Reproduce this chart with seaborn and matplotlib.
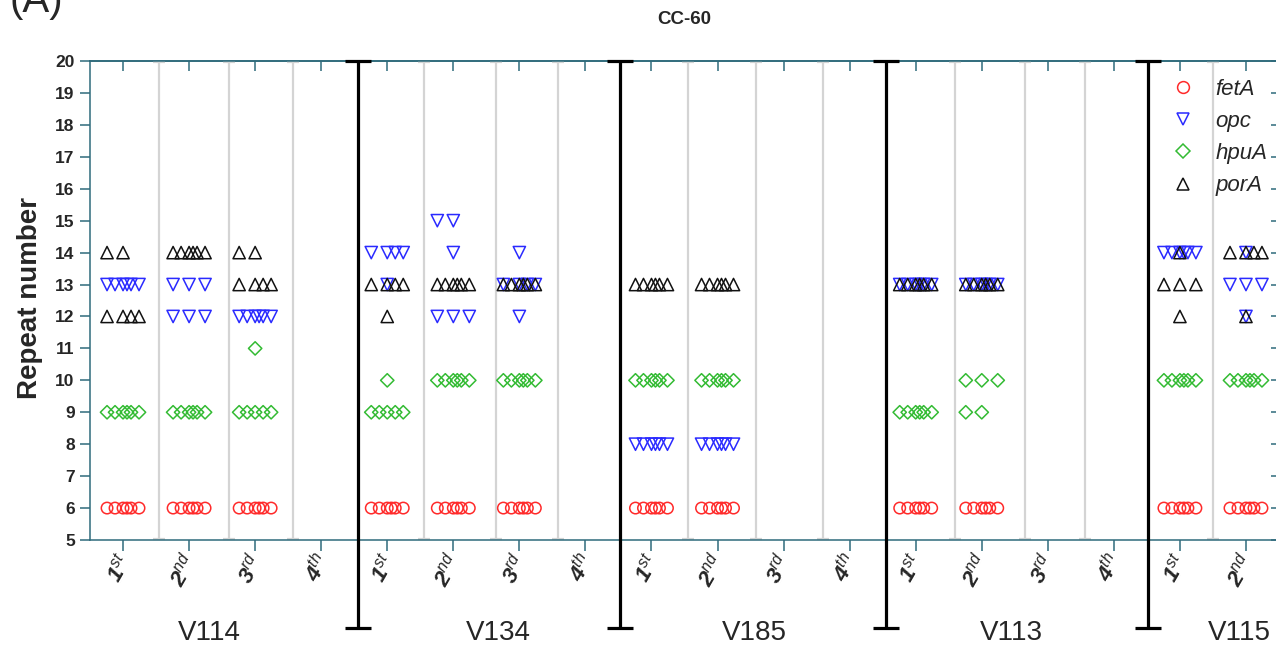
import numpy as np
import pandas as pd
import matplotlib
matplotlib.use("Agg")
import matplotlib.pyplot as plt
import matplotlib.transforms as mtransforms
from matplotlib.lines import Line2D
import seaborn as sns

# ---------------- data ----------------
groups = ["V114", "V134", "V185", "V113", "V115"]
rounds = ["1st", "2nd", "3rd", "4th", "1st", "2nd", "3rd", "4th", "1st", "2nd", "3rd", "4th",
          "1st", "2nd", "3rd", "4th", "1st", "2nd"]
genes = ["fetA", "opc", "hpuA", "porA"]

fetA = [[6, 6, 6, 6, 6, 6], [6, 6, 6, 6, 6, 6], [6, 6, 6, 6, 6, 6], [],
        [6, 6, 6, 6, 6, 6], [6, 6, 6, 6, 6, 6], [6, 6, 6, 6, 6, 6], [],
        [6, 6, 6, 6, 6, 6], [6, 6, 6, 6, 6, 6], [], [],
        [6, 6, 6, 6, 6, 6], [6, 6, 6, 6, 6, 6], [], [],
        [6, 6, 6, 6, 6, 6], [6, 6, 6, 6, 6, 6]]
opc = [[13, 13, 13, 13, 13, 13], [13, 13, 13, 12, 12, 12], [12, 12, 12, 12, 12, 12], [],
       [14, 14, 14, 14, 13], [15, 15, 14, 12, 12, 12], [14, 13, 13, 13, 13, 12], [],
       [8, 8, 8, 8, 8, 8], [8, 8, 8, 8, 8, 8], [], [],
       [13, 13, 13, 13, 13, 13], [13, 13, 13, 13, 13, 13], [], [],
       [14, 14, 14, 14, 14, 14], [14, 13, 13, 13, 12]]
hpuA = [[9, 9, 9, 9, 9, 9], [9, 9, 9, 9, 9, 9], [11, 9, 9, 9, 9, 9], [],
        [10, 9, 9, 9, 9, 9], [10, 10, 10, 10, 10, 10], [10, 10, 10, 10, 10, 10], [],
        [10, 10, 10, 10, 10, 10], [10, 10, 10, 10, 10, 10], [], [],
        [9, 9, 9, 9, 9, 9], [10, 10, 10, 9, 9], [], [],
        [10, 10, 10, 10, 10, 10], [10, 10, 10, 10, 10, 10]]
porA = [[14, 14, 12, 12, 12, 12], [14, 14, 14, 14, 14, 14], [14, 14, 13, 13, 13, 13], [],
        [13, 13, 13, 13, 12], [13, 13, 13, 13, 13, 13], [13, 13, 13, 13, 13, 13], [],
        [13, 13, 13, 13, 13, 13], [13, 13, 13, 13, 13, 13], [], [],
        [13, 13, 13, 13, 13, 13], [13, 13, 13, 13, 13, 13], [], [],
        [14, 13, 13, 13, 12], [14, 14, 14, 14, 12]]

gene_values = {"fetA": fetA, "opc": opc, "hpuA": hpuA, "porA": porA}
gene_colors = {"fetA": "#ff2a2a", "opc": "#2a2aff", "hpuA": "#33bb33", "porA": "#111111"}
gene_markers = {"fetA": "o", "opc": "v", "hpuA": "D", "porA": "^"}
gene_sizes = {"fetA": 68, "opc": 78, "hpuA": 46, "porA": 78}

# ---------------- layout helpers ----------------
slot_order = [-0.242, 0.0, 0.242, 0.121, -0.121, 0.06, -0.06, 0.03]


def spread(values, col):
    """place tied values side by side (swarm-like)"""
    xs = []
    seen = {}
    counts = {v: values.count(v) for v in values}
    for v in values:
        k = seen.get(v, 0)
        seen[v] = k + 1
        off = 0.0 if counts[v] == 1 else slot_order[k % len(slot_order)]
        xs.append(col + off)
    return xs


rows = []
for g in genes:
    for col, vals in enumerate(gene_values[g]):
        for x, v in zip(spread(vals, col), vals):
            rows.append({"gene": g, "col": col, "xpos": x, "value": v})
df = pd.DataFrame(rows)

# ---------------- style ----------------
sns.set_theme(style="white")
plt.rcParams["font.family"] = ["Liberation Sans", "DejaVu Sans"]
plt.rcParams["mathtext.fontset"] = "custom"
plt.rcParams["mathtext.rm"] = "Liberation Sans"
plt.rcParams["mathtext.it"] = "Liberation Sans:italic"
plt.rcParams["mathtext.bf"] = "Liberation Sans:italic:bold"

teal = "#2f6b7c"
W, H = 1276, 648
fig = plt.figure(figsize=(W / 100, H / 100), dpi=100)
ax = fig.add_axes([90 / W, 1 - 540 / H, (1279 - 90) / W, (540 - 61) / H])
ax.set_xlim(-0.5, 17.5)
ax.set_ylim(5, 20)

for g in genes:
    sub = df[df["gene"] == g]
    sns.scatterplot(data=sub, x="xpos", y="value", marker=gene_markers[g],
                    s=gene_sizes[g], color=gene_colors[g], linewidth=1.1,
                    ax=ax, legend=False, zorder=4, clip_on=False)
    coll = ax.collections[-1]
    coll.set_facecolor("none")
    coll.set_edgecolor(gene_colors[g])

# grey separators within a group
grey_pos = [0.55, 1.6, 2.58, 4.56, 5.65, 6.59, 8.56, 9.58, 10.59, 12.6, 13.65, 14.56, 16.5]
for xg in grey_pos:
    ax.plot([xg, xg], [5, 20], color="#d4d4d4", lw=1.6, zorder=1, solid_capstyle="butt")
    ax.plot([xg, xg], [5.03, 19.97], ls="none", marker="_", ms=9, mew=1.6,
            color="#d4d4d4", zorder=1)

# black separators between groups
ybot = 2.244
for xb in [3.55, 7.53, 11.55, 15.51]:
    ax.plot([xb, xb], [ybot, 20], color="black", lw=2.3, zorder=5, clip_on=False,
            solid_capstyle="butt")
    ax.plot([xb, xb], [ybot, 20], ls="none", marker="_", ms=19, mew=2.3,
            color="black", zorder=5, clip_on=False)

# spines
for s in ["left", "bottom", "top", "right"]:
    ax.spines[s].set_color(teal)
    ax.spines[s].set_linewidth(1.1)

# y ticks
ax.set_yticks(range(5, 21))
ax.set_yticklabels([str(v) for v in range(5, 21)], fontweight="bold", fontsize=12.5)
ax.tick_params(axis="y", which="major", left=True, direction="out", length=7,
               width=1.1, color=teal, pad=4)

# x ticks
labels = []
for r in rounds:
    labels.append(r"$\mathbf{%s}^{\mathit{%s}}$" % (r[0], r[1:]))
ax.set_xticks(range(len(rounds)))
ax.set_xticklabels(labels, fontsize=16, rotation=60, ha="right", va="center",
                   rotation_mode="anchor")
ax.tick_params(axis="x", which="major", bottom=True, direction="out", length=8,
               width=1.1, color=teal, pad=4)
offset = mtransforms.ScaledTranslation(3 / 100, 0, fig.dpi_scale_trans)
for lab in ax.get_xticklabels():
    lab.set_transform(lab.get_transform() + offset)

secx = ax.secondary_xaxis("top")
secx.set_xticks(range(len(rounds)))
secx.set_xticklabels([])
secx.tick_params(axis="x", direction="in", length=7, width=1.1, color=teal)
secx.spines["top"].set_color(teal)

secy = ax.secondary_yaxis("right")
secy.set_yticks(range(5, 21))
secy.set_yticklabels([])
secy.tick_params(axis="y", direction="in", length=6, width=1.1, color=teal)
secy.spines["right"].set_color(teal)

ax.set_xlabel("")
ax.set_ylabel("")

# group labels
for name, xg in zip(groups, [1.3, 5.68, 9.56, 13.45, 16.9]):
    ax.text(xg, 2.08, name, ha="center", va="center", fontsize=20, clip_on=False)

# texts
fig.text(684 / W, 1 - 20 / H, "CC-60", ha="center", va="center",
         fontweight="bold", fontsize=13.5)
fig.text(10 / W, 1 - 12 / H, "(A)", ha="left", va="baseline", fontsize=29)
fig.text(30 / W, 1 - 298 / H, "Repeat number", rotation=90, ha="center",
         va="center", fontweight="bold", fontsize=20)

# legend
handles = [Line2D([], [], ls="none", marker=gene_markers[g], markersize=8.5 if g != "hpuA" else 6.8,
                  markerfacecolor="none", markeredgecolor=gene_colors[g], markeredgewidth=1.1)
           for g in genes]
ax.legend(handles, genes, loc="upper left", bbox_to_anchor=(1172 / W, 1 - 79 / H),
          bbox_transform=fig.transFigure, frameon=False, borderpad=0, borderaxespad=0,
          prop={"style": "italic", "size": 16}, handlelength=1.0, handletextpad=0.95,
          labelspacing=0.5)

fig.savefig("out.png", dpi=100)
